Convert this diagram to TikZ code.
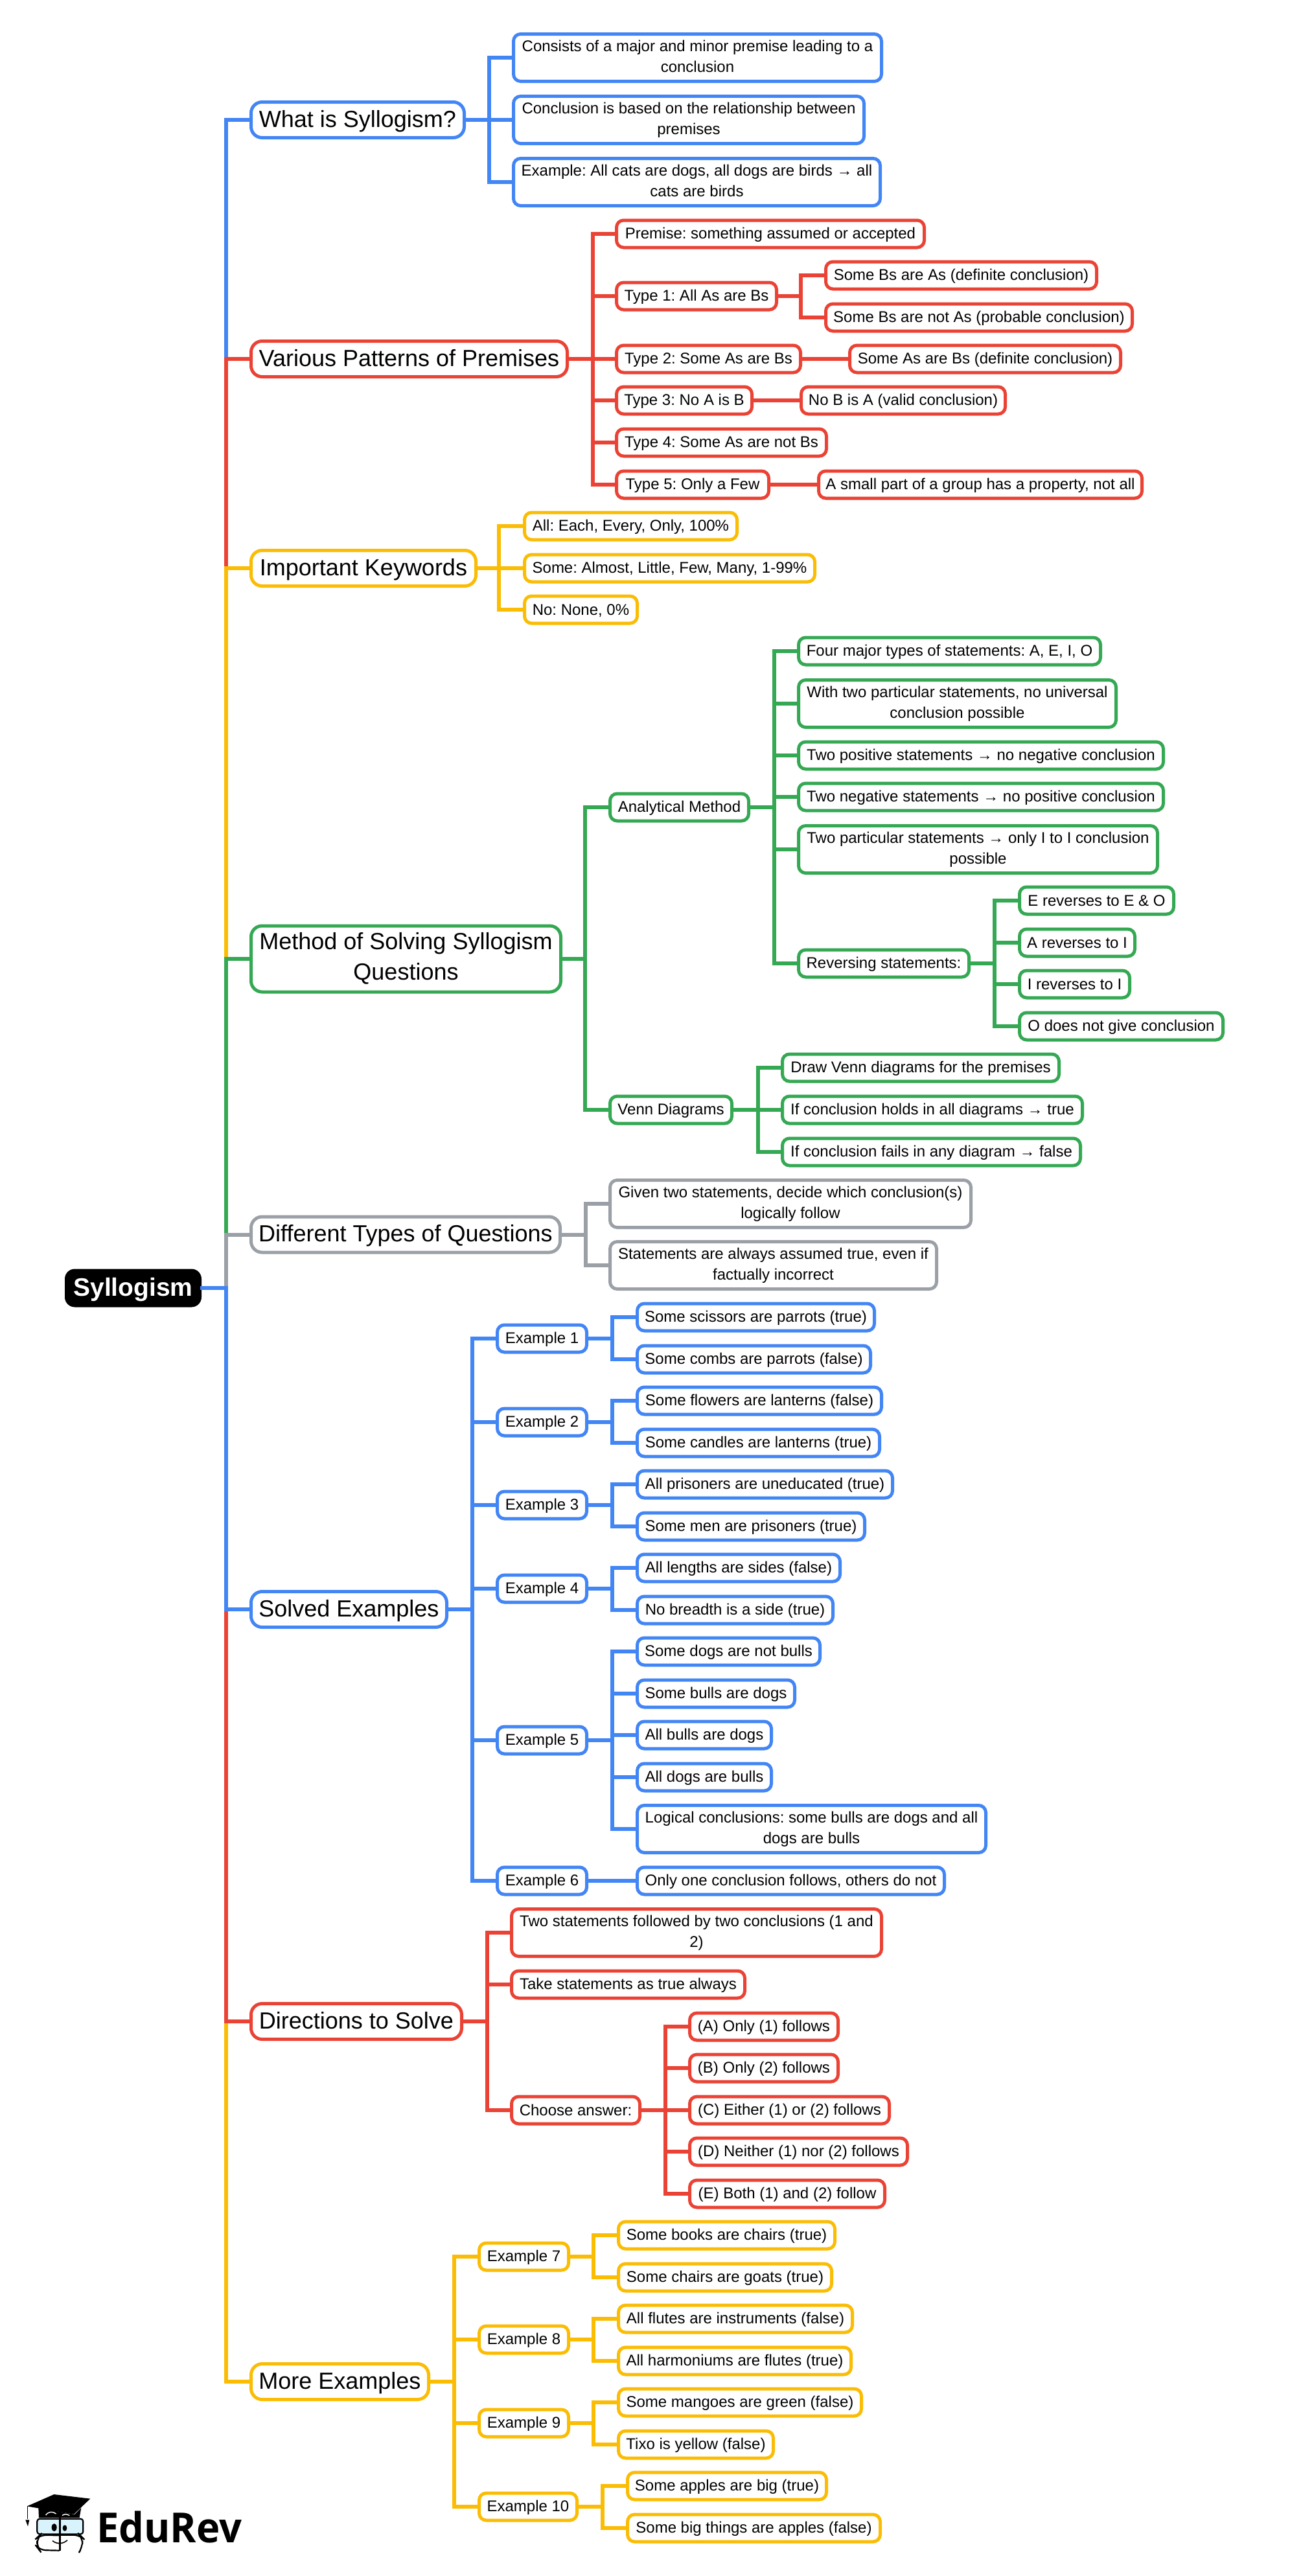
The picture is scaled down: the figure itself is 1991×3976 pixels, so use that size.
\documentclass[tikz,border=0pt]{standalone}
\usepackage{fontspec}
\setmainfont{Liberation Sans}
\newfontfamily\logofont{Open Sans}
\frenchspacing
\definecolor{cb}{HTML}{4285F4}
\definecolor{cr}{HTML}{EA4335}
\definecolor{cy}{HTML}{FBBC04}
\definecolor{cg}{HTML}{34A853}
\definecolor{cn}{HTML}{9AA0A6}
\tikzset{
  boxbase/.style={draw,fill=white,rectangle,line width=5pt,inner xsep=0pt,inner ysep=0pt,align=center,text=black},
  lf/.style={boxbase,rounded corners=11pt,minimum height=42pt,font=\fontsize{24}{31.7}\selectfont,
    execute at begin node={\vrule width 0pt height 20pt depth 4pt\relax},
    execute at end node={\vrule width 0pt height 20pt depth 4pt\relax}},
  two/.style={minimum height=73pt},
  big/.style={boxbase,rounded corners=17pt,minimum height=55pt,font=\fontsize{36}{47}\selectfont,
    execute at begin node={\vrule width 0pt height 31pt depth 9pt\relax},
    execute at end node={\vrule width 0pt height 31pt depth 9pt\relax}},
  bigtwo/.style={minimum height=102pt},
  rootbox/.style={rectangle,draw=black,fill=black,line width=1pt,rounded corners=15pt,inner sep=0pt,text=white,
    minimum height=58pt,font=\fontsize{39}{44}\bfseries\selectfont,
    execute at begin node={\vrule width 0pt height 33pt depth 9pt\relax}},
  link/.style={line width=6pt,line join=miter,line cap=butt,shorten >=-2pt,shorten <=-2pt}
}
\newcommand\nd[6]{%
  \pgfmathsetmacro\boxxc{(#3-1+#4)/2}%
  \pgfmathsetmacro\boxw{#4-#3+1-5}%
  \node[#2,minimum width=\boxw pt] (#1) at (\boxxc,#5) {#6};}
\newcommand\cnx[4]{\draw[link,#1] (#3.east) -| (#2 |- #4.west) -- (#4.west);}
\begin{document}
\begin{tikzpicture}[x=1pt,y=-1pt]
\useasboundingbox (0,0) rectangle (1991,3976);
\fill[white] (0,0) rectangle (1991,3976);
% vertical bus coordinates
\coordinate (vT) at (349,0);
\coordinate (vA) at (755,0);
\coordinate (vB) at (914.5,0);
\coordinate (vBa) at (1236,0);
\coordinate (vC) at (770,0);
\coordinate (vD) at (903,0);
\coordinate (vDa) at (1195,0);
\coordinate (vDb) at (1535,0);
\coordinate (vDc) at (1170,0);
\coordinate (vE) at (904,0);
\coordinate (vF) at (729,0);
\coordinate (vFa) at (945,0);
\coordinate (vG) at (752,0);
\coordinate (vGa) at (1027,0);
\coordinate (vH) at (701,0);
\coordinate (vHa) at (916,0);
\coordinate (vHb) at (930,0);
% root
\nd{root}{rootbox}{99}{313}{1988}{Syllogism}
% level 1
\nd{what}{big,draw=cb}{386}{719}{185}{What is Syllogism?}
\nd{various}{big,draw=cr}{386}{878}{554}{Various Patterns of Premises}
\nd{keys}{big,draw=cy}{386}{737}{877}{Important Keywords}
\nd{method}{big,bigtwo,draw=cg}{386}{868}{1480}{Method of Solving Syllogism\\Questions}
\nd{types}{big,draw=cn}{386}{867}{1905.5}{Different Types of Questions}
\nd{solved}{big,draw=cb}{386}{692}{2484}{Solved Examples}
\nd{direct}{big,draw=cr}{386}{715}{3120}{Directions to Solve}
\nd{more}{big,draw=cy}{386}{664}{3676}{More Examples}
% trunk
\cnx{cb}{vT}{root}{what}
\cnx{cr}{vT}{root}{various}
\cnx{cy}{vT}{root}{keys}
\cnx{cg}{vT}{root}{method}
\cnx{cn}{vT}{root}{types}
\cnx{cy}{vT}{root}{more}
\cnx{cr}{vT}{root}{direct}
\cnx{cb}{vT}{root}{solved}
% What is
\nd{a1}{lf,two,draw=cb}{791}{1363}{89}{Consists of a major and minor premise leading to a\\conclusion}
\nd{a2}{lf,two,draw=cb}{791}{1336}{185}{Conclusion is based on the relationship between\\premises}
\nd{a3}{lf,two,draw=cb}{791}{1361}{281}{Example: All cats are dogs, all dogs are birds → all\\cats are birds}
\cnx{cb}{vA}{what}{a1}
\cnx{cb}{vA}{what}{a2}
\cnx{cb}{vA}{what}{a3}
% Various
\nd{b1}{lf,draw=cr}{950}{1429}{361}{Premise: something assumed or accepted}
\nd{b2}{lf,draw=cr}{950}{1201}{457}{Type 1: All As are Bs}
\nd{b3}{lf,draw=cr}{950}{1238}{554}{Type 2: Some As are Bs}
\nd{b4}{lf,draw=cr}{950}{1163}{618}{Type 3: No A is B}
\nd{b5}{lf,draw=cr}{950}{1278}{683}{Type 4: Some As are not Bs}
\nd{b6}{lf,draw=cr}{950}{1189}{748}{Type 5: Only a Few}
\nd{b21}{lf,draw=cr}{1273}{1695}{425}{Some Bs are As (definite conclusion)}
\nd{b22}{lf,draw=cr}{1273}{1750}{490}{Some Bs are not As (probable conclusion)}
\nd{b31}{lf,draw=cr}{1310}{1732}{554}{Some As are Bs (definite conclusion)}
\nd{b41}{lf,draw=cr}{1235}{1554}{618}{No B is A (valid conclusion)}
\nd{b61}{lf,draw=cr}{1262}{1765}{748}{A small part of a group has a property, not all}
\cnx{cr}{vB}{various}{b1}
\cnx{cr}{vB}{various}{b2}
\cnx{cr}{vB}{various}{b3}
\cnx{cr}{vB}{various}{b4}
\cnx{cr}{vB}{various}{b5}
\cnx{cr}{vB}{various}{b6}
\cnx{cr}{vBa}{b2}{b21}
\cnx{cr}{vBa}{b2}{b22}
\draw[link,cr] (b3.east) -- (b31.west);
\draw[link,cr] (b4.east) -- (b41.west);
\draw[link,cr] (b6.east) -- (b61.west);
% Keywords
\nd{c1}{lf,draw=cy}{808}{1140}{812}{All: Each, Every, Only, 100\%}
\nd{c2}{lf,draw=cy}{808}{1260}{877}{Some: Almost, Little, Few, Many, 1-99\%}
\nd{c3}{lf,draw=cy}{808}{986}{941}{No: None, 0\%}
\cnx{cy}{vC}{keys}{c1}
\cnx{cy}{vC}{keys}{c2}
\cnx{cy}{vC}{keys}{c3}
% Method
\nd{d1}{lf,draw=cg}{940}{1158}{1246}{Analytical Method}
\nd{d2}{lf,draw=cg}{940}{1132}{1713}{Venn Diagrams}
\cnx{cg}{vD}{method}{d1}
\cnx{cg}{vD}{method}{d2}
\nd{d11}{lf,draw=cg}{1231}{1701}{1005}{Four major types of statements: A, E, I, O}
\nd{d12}{lf,two,draw=cg}{1231}{1725}{1086}{With two particular statements, no universal\\conclusion possible}
\nd{d13}{lf,draw=cg}{1231}{1798}{1166}{Two positive statements → no negative conclusion}
\nd{d14}{lf,draw=cg}{1231}{1798}{1230}{Two negative statements → no positive conclusion}
\nd{d15}{lf,two,draw=cg}{1231}{1789}{1311}{Two particular statements → only I to I conclusion\\possible}
\nd{d16}{lf,draw=cg}{1231}{1498}{1487}{Reversing statements:}
\cnx{cg}{vDa}{d1}{d11}
\cnx{cg}{vDa}{d1}{d12}
\cnx{cg}{vDa}{d1}{d13}
\cnx{cg}{vDa}{d1}{d14}
\cnx{cg}{vDa}{d1}{d15}
\cnx{cg}{vDa}{d1}{d16}
\nd{d161}{lf,draw=cg}{1572}{1814}{1390}{E reverses to E \& O}
\nd{d162}{lf,draw=cg}{1572}{1754}{1455}{A reverses to I}
\nd{d163}{lf,draw=cg}{1572}{1746}{1519}{I reverses to I}
\nd{d164}{lf,draw=cg}{1572}{1890}{1584}{O does not give conclusion}
\cnx{cg}{vDb}{d16}{d161}
\cnx{cg}{vDb}{d16}{d162}
\cnx{cg}{vDb}{d16}{d163}
\cnx{cg}{vDb}{d16}{d164}
\nd{d21}{lf,draw=cg}{1206}{1637}{1648}{Draw Venn diagrams for the premises}
\nd{d22}{lf,draw=cg}{1206}{1673}{1713}{If conclusion holds in all diagrams → true}
\nd{d23}{lf,draw=cg}{1206}{1670}{1778}{If conclusion fails in any diagram → false}
\cnx{cg}{vDc}{d2}{d21}
\cnx{cg}{vDc}{d2}{d22}
\cnx{cg}{vDc}{d2}{d23}
% Different types
\nd{e1}{lf,two,draw=cn}{940}{1501}{1858}{Given two statements, decide which conclusion(s)\\logically follow}
\nd{e2}{lf,two,draw=cn}{940}{1448}{1953}{Statements are always assumed true, even if\\factually incorrect}
\cnx{cn}{vE}{types}{e1}
\cnx{cn}{vE}{types}{e2}
% Solved
\nd{f1}{lf,draw=cb}{766}{908}{2066}{Example 1}
\nd{f2}{lf,draw=cb}{766}{908}{2195}{Example 2}
\nd{f3}{lf,draw=cb}{766}{908}{2323}{Example 3}
\nd{f4}{lf,draw=cb}{766}{908}{2452}{Example 4}
\nd{f5}{lf,draw=cb}{766}{908}{2686}{Example 5}
\nd{f6}{lf,draw=cb}{766}{908}{2903}{Example 6}
\cnx{cb}{vF}{solved}{f1}
\cnx{cb}{vF}{solved}{f2}
\cnx{cb}{vF}{solved}{f3}
\cnx{cb}{vF}{solved}{f4}
\cnx{cb}{vF}{solved}{f5}
\cnx{cb}{vF}{solved}{f6}
\nd{f11}{lf,draw=cb}{982}{1352}{2033}{Some scissors are parrots (true)}
\nd{f12}{lf,draw=cb}{982}{1346}{2098}{Some combs are parrots (false)}
\nd{f21}{lf,draw=cb}{982}{1363}{2162}{Some flowers are lanterns (false)}
\nd{f22}{lf,draw=cb}{982}{1360}{2227}{Some candles are lanterns (true)}
\nd{f31}{lf,draw=cb}{982}{1380}{2291}{All prisoners are uneducated (true)}
\nd{f32}{lf,draw=cb}{982}{1337}{2356}{Some men are prisoners (true)}
\nd{f41}{lf,draw=cb}{982}{1299}{2420}{All lengths are sides (false)}
\nd{f42}{lf,draw=cb}{982}{1288}{2485}{No breadth is a side (true)}
\nd{f51}{lf,draw=cb}{982}{1268}{2549}{Some dogs are not bulls}
\nd{f52}{lf,draw=cb}{982}{1229}{2614}{Some bulls are dogs}
\nd{f53}{lf,draw=cb}{982}{1193}{2678}{All bulls are dogs}
\nd{f54}{lf,draw=cb}{982}{1193}{2743}{All dogs are bulls}
\nd{f55}{lf,two,draw=cb}{982}{1524}{2823}{Logical conclusions: some bulls are dogs and all\\dogs are bulls}
\nd{f61}{lf,draw=cb}{982}{1460}{2903}{Only one conclusion follows, others do not}
\cnx{cb}{vFa}{f1}{f11}
\cnx{cb}{vFa}{f1}{f12}
\cnx{cb}{vFa}{f2}{f21}
\cnx{cb}{vFa}{f2}{f22}
\cnx{cb}{vFa}{f3}{f31}
\cnx{cb}{vFa}{f3}{f32}
\cnx{cb}{vFa}{f4}{f41}
\cnx{cb}{vFa}{f4}{f42}
\cnx{cb}{vFa}{f5}{f51}
\cnx{cb}{vFa}{f5}{f52}
\cnx{cb}{vFa}{f5}{f53}
\cnx{cb}{vFa}{f5}{f54}
\cnx{cb}{vFa}{f5}{f55}
\draw[link,cb] (f6.east) -- (f61.west);
% Directions
\nd{g1}{lf,two,draw=cr}{788}{1363}{2983}{Two statements followed by two conclusions (1 and\\2)}
\nd{g2}{lf,draw=cr}{788}{1152}{3063}{Take statements as true always}
\nd{g3}{lf,draw=cr}{788}{990}{3257}{Choose answer:}
\cnx{cr}{vG}{direct}{g1}
\cnx{cr}{vG}{direct}{g2}
\cnx{cr}{vG}{direct}{g3}
\nd{g31}{lf,draw=cr}{1063}{1296}{3128}{(A) Only (1) follows}
\nd{g32}{lf,draw=cr}{1063}{1296}{3192}{(B) Only (2) follows}
\nd{g33}{lf,draw=cr}{1063}{1375}{3257}{(C) Either (1) or (2) follows}
\nd{g34}{lf,draw=cr}{1063}{1403}{3321}{(D) Neither (1) nor (2) follows}
\nd{g35}{lf,draw=cr}{1063}{1368}{3386}{(E) Both (1) and (2) follow}
\cnx{cr}{vGa}{g3}{g31}
\cnx{cr}{vGa}{g3}{g32}
\cnx{cr}{vGa}{g3}{g33}
\cnx{cr}{vGa}{g3}{g34}
\cnx{cr}{vGa}{g3}{g35}
% More
\nd{h1}{lf,draw=cy}{738}{880}{3483}{Example 7}
\nd{h2}{lf,draw=cy}{738}{880}{3611}{Example 8}
\nd{h3}{lf,draw=cy}{738}{880}{3740}{Example 9}
\nd{h4}{lf,draw=cy}{738}{893}{3869}{Example 10}
\cnx{cy}{vH}{more}{h1}
\cnx{cy}{vH}{more}{h2}
\cnx{cy}{vH}{more}{h3}
\cnx{cy}{vH}{more}{h4}
\nd{h11}{lf,draw=cy}{953}{1291}{3450}{Some books are chairs (true)}
\nd{h12}{lf,draw=cy}{953}{1286}{3515}{Some chairs are goats (true)}
\nd{h21}{lf,draw=cy}{953}{1318}{3579}{All flutes are instruments (false)}
\nd{h22}{lf,draw=cy}{953}{1316}{3644}{All harmoniums are flutes (true)}
\nd{h31}{lf,draw=cy}{953}{1332}{3708}{Some mangoes are green (false)}
\nd{h32}{lf,draw=cy}{953}{1196}{3773}{Tixo is yellow (false)}
\nd{h41}{lf,draw=cy}{967}{1278}{3837}{Some apples are big (true)}
\nd{h42}{lf,draw=cy}{967}{1361}{3902}{Some big things are apples (false)}
\cnx{cy}{vHa}{h1}{h11}
\cnx{cy}{vHa}{h1}{h12}
\cnx{cy}{vHa}{h2}{h21}
\cnx{cy}{vHa}{h2}{h22}
\cnx{cy}{vHa}{h3}{h31}
\cnx{cy}{vHa}{h3}{h32}
\cnx{cy}{vHb}{h4}{h41}
\cnx{cy}{vHb}{h4}{h42}
% logo
\node[anchor=base west,inner sep=0pt,text=black,font=\logofont\bfseries\fontsize{64}{64}\selectfont,xscale=.96,transform shape] (edurev) at (149,3924) {EduRev};
\begin{scope}[shift={(20,3800)},x=.3333pt,y=-.3333pt]
\fill[black] (65,205) -- (190,150) -- (358,170) -- (282,242) -- cycle;
\fill[black] (118,212) -- (285,243) -- (316,212) -- (308,258) -- (120,258) -- cycle;
\draw[white,line width=1.4pt] (152,246) .. controls (165,228) and (185,228) .. (200,240);
\draw[white,line width=1.4pt] (228,248) .. controls (236,240) and (250,240) .. (262,248);
\draw[black,line width=1.4pt] (67,205) -- (67,265);
\fill[black] (58,268) -- (76,268) -- (69,298) -- cycle;
\draw[black,line width=2.2pt,fill=cyan!15!white,rounded corners=4pt] (112,263) rectangle (325,334);
\draw[black,line width=2.2pt,rounded corners=10pt] (215,340) -- (125,338) -- (112,350) -- (112,395) -- (122,408) -- (215,410);
\draw[black,line width=2.2pt,rounded corners=10pt] (222,338) -- (310,338) -- (322,350) -- (322,395) -- (312,410);
\draw[black,line width=3pt] (218,255) -- (218,412);
\fill[black] (191,303) ellipse (12 and 18);
\fill[black] (240,306) ellipse (10 and 14);
\draw[black,line width=1.6pt] (183,365) .. controls (205,382) and (232,380) .. (252,362);
\end{scope}
\end{tikzpicture}
\end{document}
